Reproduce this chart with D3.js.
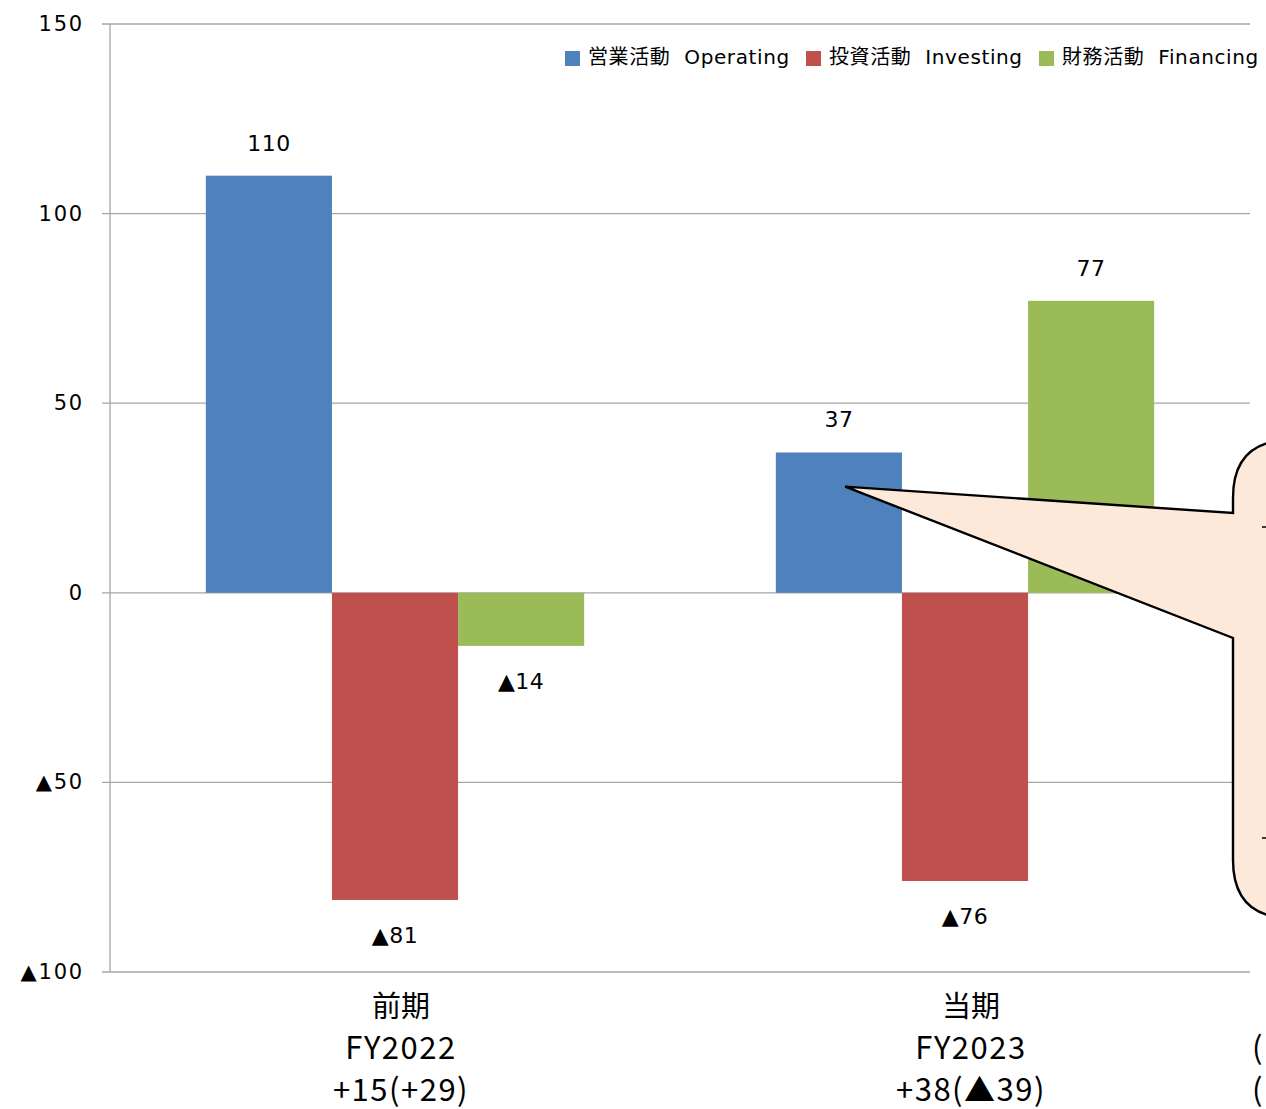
<!DOCTYPE html>
<html>
<head>
<meta charset="utf-8">
<script src="https://cdn.jsdelivr.net/npm/d3@7"></script>
<style>
  body { margin: 0; background: #fff; }
  svg { display: block; }
</style>
</head>
<body>
<div id="chart"></div>
<script>
// data
const categories = ["前期", "当期"];
const categoryLines = [["前期", "FY2022", "+15(+29)"], ["当期", "FY2023", "+38(▲39)"]];
const seriesNames = ["営業活動  Operating", "投資活動  Investing", "財務活動  Financing"];
const seriesKeys = ["Operating", "Investing", "Financing"];
const operating = [110, 37];
const investing = [-81, -76];
const financing = [-14, 77];
const yTicks = [150, 100, 50, 0, -50, -100];
const colors = ["#4F81BD", "#C0504D", "#9BBB59"];

const width = 1266, height = 1109;
const margin = { top: 24, right: 16, bottom: 137, left: 110 };

const svg = d3.select("#chart").append("svg")
  .attr("width", width)
  .attr("height", height);

const fmt = d => d < 0 ? "▲" + (-d) : String(d);
const font = "'DejaVu Sans', 'Noto Sans CJK JP', sans-serif";

const y = d3.scaleLinear()
  .domain([-100, 150])
  .range([height - margin.bottom, margin.top]);

const x0 = d3.scaleBand()
  .domain(categories)
  .range([margin.left, width - margin.right])
  .paddingInner(0)
  .paddingOuter(0);

const x1 = d3.scaleBand()
  .domain(seriesKeys)
  .range([0, x0.bandwidth()])
  .paddingInner(0)
  .paddingOuter(0.76);

const plotRight = 1250;

// gridlines + ticks
const grid = svg.append("g");
grid.selectAll("line")
  .data(yTicks)
  .enter().append("line")
  .attr("x1", margin.left - 8)
  .attr("x2", plotRight)
  .attr("y1", d => y(d))
  .attr("y2", d => y(d))
  .attr("stroke", "#A6A6A6")
  .attr("stroke-width", 1.3);

svg.append("line")
  .attr("x1", margin.left).attr("x2", margin.left)
  .attr("y1", y(150)).attr("y2", y(-100))
  .attr("stroke", "#A6A6A6")
  .attr("stroke-width", 1.3);

svg.append("g").selectAll("text")
  .data(yTicks)
  .enter().append("text")
  .attr("x", 84)
  .attr("y", d => y(d) + 7)
  .attr("text-anchor", "end")
  .attr("font-family", font)
  .attr("font-size", 21)
  .attr("letter-spacing", 1.8)
  .attr("fill", "#000")
  .text(fmt);

// bars
const rows = categories.map((c, i) => ({
  cat: c,
  values: [operating[i], investing[i], financing[i]]
}));

const groups = svg.selectAll(".grp")
  .data(rows)
  .enter().append("g")
  .attr("class", "grp")
  .attr("transform", d => "translate(" + x0(d.cat) + ",0)");

groups.selectAll("rect")
  .data(d => d.values.map((v, k) => ({ key: seriesKeys[k], v: v, k: k })))
  .enter().append("rect")
  .attr("x", d => x1(d.key))
  .attr("width", x1.bandwidth())
  .attr("y", d => y(Math.max(0, d.v)))
  .attr("height", d => Math.abs(y(d.v) - y(0)))
  .attr("fill", d => colors[d.k]);

groups.selectAll(".lbl")
  .data(d => d.values.map((v, k) => ({ key: seriesKeys[k], v: v, k: k })))
  .enter().append("text")
  .attr("class", "lbl")
  .attr("x", d => x1(d.key) + x1.bandwidth() / 2)
  .attr("y", d => d.v >= 0 ? y(d.v) - 25 : y(d.v) + 43)
  .attr("text-anchor", "middle")
  .attr("font-family", font)
  .attr("font-size", 22)
  .attr("letter-spacing", 0.5)
  .attr("fill", "#000")
  .text(d => fmt(d.v));

// category labels
const catG = svg.append("g");
categoryLines.forEach((lines, i) => {
  const cx = x0(categories[i]) + x0.bandwidth() / 2 + 6;
  catG.append("g").selectAll("text")
    .data(lines)
    .enter().append("text")
    .attr("x", cx)
    .attr("y", (d, j) => 1017 + j * 42)
    .attr("text-anchor", "middle")
    .attr("font-family", "'Noto Sans CJK JP', sans-serif")
    .attr("font-size", (d, j) => j === 0 ? 29 : 31)
    .attr("letter-spacing", (d, j) => j === 0 ? 0 : 1.5)
    .attr("fill", "#000")
    .text(d => d);
});

// cut-off labels at right edge
svg.append("g").selectAll("text")
  .data(["(", "("])
  .enter().append("text")
  .attr("x", 1252)
  .attr("y", (d, j) => 1059 + j * 42)
  .attr("font-family", "'Noto Sans CJK JP', sans-serif")
  .attr("font-size", 31)
  .text(d => d);

// legend
const legendX = [565, 806, 1039];
const legend = svg.append("g");
seriesNames.forEach((name, k) => {
  legend.append("rect")
    .attr("x", legendX[k]).attr("y", 51)
    .attr("width", 15).attr("height", 15)
    .attr("fill", colors[k]);
  legend.append("text")
    .attr("x", legendX[k] + 23).attr("y", 64)
    .attr("font-family", font)
    .attr("font-size", 20)
    .attr("letter-spacing", 0.6)
    .attr("fill", "#000")
    .attr("xml:space", "preserve")
    .style("white-space", "pre")
    .text(name);
});

// callout pointing at the operating bar of the current period
const tipX = x0("当期") + x1("Operating") + x1.bandwidth() * 0.55;
const tipY = y(28);
const bx = 1233, boxTop = 440, boxBottom = 918, r = 58;
const callout = "M" + bx + "," + 513 +
  " L" + bx + "," + (boxTop + r) +
  " Q" + bx + "," + boxTop + " " + (bx + r) + "," + boxTop +
  " L" + (width + 20) + "," + boxTop +
  " L" + (width + 20) + "," + boxBottom +
  " L" + (bx + r) + "," + boxBottom +
  " Q" + bx + "," + boxBottom + " " + bx + "," + (boxBottom - r) +
  " L" + bx + "," + 638 +
  " L" + tipX + "," + tipY + " Z";
svg.append("path")
  .attr("d", callout)
  .attr("fill", "#FDE9D9")
  .attr("stroke", "#000")
  .attr("stroke-width", 2.4)
  .attr("stroke-linejoin", "miter");

svg.append("g").selectAll("line")
  .data([527, 838])
  .enter().append("line")
  .attr("x1", 1262).attr("x2", 1268)
  .attr("y1", d => d).attr("y2", d => d)
  .attr("stroke", "#000")
  .attr("stroke-width", 1.5);
</script>
</body>
</html>
